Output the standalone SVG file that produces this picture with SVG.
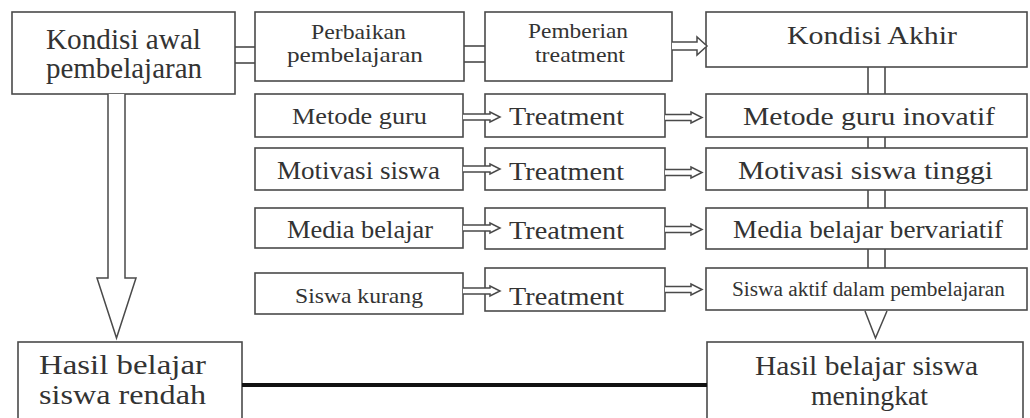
<svg xmlns="http://www.w3.org/2000/svg" width="1030" height="418" viewBox="0 0 1030 418">
<style>
.box{fill:#fff;stroke:#4a4a4a;stroke-width:1.6}
text{font-family:'Liberation Serif','DejaVu Serif',serif;fill:#333}
.ln{stroke:#4a4a4a;stroke-width:1.6;fill:none}
.ar{fill:#fff;stroke:#4a4a4a;stroke-width:1.5;stroke-linejoin:miter}
</style>
<rect width="1030" height="418" fill="#fff"/>
<g id="nodes" font-family="'Liberation Serif', serif">
<g id="kondisi-awal"><rect class="box" x="12" y="12" width="223" height="82"/>
<text x="46" y="49" font-size="29" textLength="155" lengthAdjust="spacingAndGlyphs">Kondisi awal</text>
<text x="46" y="78" font-size="29" textLength="156" lengthAdjust="spacingAndGlyphs">pembelajaran</text></g>
<g id="perbaikan"><rect class="box" x="255" y="12" width="209" height="69"/>
<text x="311" y="39" font-size="21" textLength="95" lengthAdjust="spacingAndGlyphs">Perbaikan</text>
<text x="287" y="62" font-size="21" textLength="136" lengthAdjust="spacingAndGlyphs">pembelajaran</text></g>
<g id="pemberian"><rect class="box" x="485" y="12" width="187" height="69"/>
<text x="528" y="38" font-size="21" textLength="100" lengthAdjust="spacingAndGlyphs">Pemberian</text>
<text x="535" y="62" font-size="21" textLength="90" lengthAdjust="spacingAndGlyphs">treatment</text></g>
<g id="kondisi-akhir"><rect class="box" x="706" y="12" width="321" height="55"/>
<text x="787" y="44" font-size="25" textLength="170" lengthAdjust="spacingAndGlyphs">Kondisi Akhir</text></g>

<g id="metode-guru"><rect class="box" x="255" y="94" width="208" height="43"/>
<text x="292" y="124" font-size="24" textLength="135" lengthAdjust="spacingAndGlyphs">Metode guru</text></g>
<g id="treatment-1"><rect class="box" x="485" y="94" width="180" height="43"/>
<text x="509" y="125" font-size="26" textLength="115" lengthAdjust="spacingAndGlyphs">Treatment</text></g>
<g id="metode-inovatif"><rect class="box" x="706" y="94" width="321" height="43"/>
<text x="743" y="125" font-size="25" textLength="252" lengthAdjust="spacingAndGlyphs">Metode guru inovatif</text></g>

<g id="motivasi"><rect class="box" x="255" y="148" width="208" height="42"/>
<text x="277" y="179" font-size="25" textLength="163" lengthAdjust="spacingAndGlyphs">Motivasi siswa</text></g>
<g id="treatment-2"><rect class="box" x="485" y="148" width="180" height="42"/>
<text x="509" y="180" font-size="26" textLength="115" lengthAdjust="spacingAndGlyphs">Treatment</text></g>
<g id="motivasi-tinggi"><rect class="box" x="706" y="148" width="321" height="42"/>
<text x="738" y="179" font-size="26" textLength="255" lengthAdjust="spacingAndGlyphs">Motivasi siswa tinggi</text></g>

<g id="media"><rect class="box" x="255" y="208" width="208" height="40"/>
<text x="287" y="238" font-size="25" textLength="146" lengthAdjust="spacingAndGlyphs">Media belajar</text></g>
<g id="treatment-3"><rect class="box" x="485" y="208" width="180" height="41"/>
<text x="509" y="239" font-size="26" textLength="115" lengthAdjust="spacingAndGlyphs">Treatment</text></g>
<g id="media-bervariatif"><rect class="box" x="706" y="208" width="321" height="41"/>
<text x="733" y="238" font-size="25" textLength="270" lengthAdjust="spacingAndGlyphs">Media belajar bervariatif</text></g>

<g id="siswa-kurang"><rect class="box" x="255" y="273" width="208" height="41"/>
<text x="295" y="303" font-size="22" textLength="128" lengthAdjust="spacingAndGlyphs">Siswa kurang</text></g>
<g id="treatment-4"><rect class="box" x="485" y="268" width="180" height="43"/>
<text x="509" y="305" font-size="26" textLength="115" lengthAdjust="spacingAndGlyphs">Treatment</text></g>
<g id="siswa-aktif"><rect class="box" x="706" y="268" width="321" height="42"/>
<text x="732" y="296" font-size="20" textLength="273" lengthAdjust="spacingAndGlyphs">Siswa aktif dalam pembelajaran</text></g>

<g id="hasil-rendah"><rect class="box" x="18" y="342" width="224" height="90"/>
<text x="39" y="374" font-size="27" textLength="167" lengthAdjust="spacingAndGlyphs">Hasil belajar</text>
<text x="39" y="404" font-size="27" textLength="167" lengthAdjust="spacingAndGlyphs">siswa rendah</text></g>
<g id="hasil-meningkat"><rect class="box" x="707" y="342" width="316" height="90"/>
<text x="755" y="375" font-size="27" textLength="223" lengthAdjust="spacingAndGlyphs">Hasil belajar siswa</text>
<text x="811" y="405" font-size="27" textLength="117" lengthAdjust="spacingAndGlyphs">meningkat</text></g>
</g>

<g id="connectors">
<line class="ln" x1="235" y1="47" x2="255" y2="47"/>
<line class="ln" x1="235" y1="63" x2="255" y2="63"/>
<line class="ln" x1="464" y1="46" x2="485" y2="46"/>
<line class="ln" x1="464" y1="62" x2="485" y2="62"/>
<path class="ar" d="M672,42 L697,42 L697,37 L707,46 L697,55 L697,50 L672,50"/>

<path class="ar" d="M463,114 L490,114 L490,112 L500,117 L490,122 L490,120 L463,120"/>
<path class="ar" d="M463,166 L490,166 L490,164 L500,169 L490,174 L490,172 L463,172"/>
<path class="ar" d="M463,225 L490,225 L490,223 L500,228 L490,233 L490,231 L463,231"/>
<path class="ar" d="M463,288 L490,288 L490,286 L500,291 L490,296 L490,294 L463,294"/>

<path class="ar" d="M665,114.5 L691,114.5 L691,112 L702,117.5 L691,123 L691,120.5 L665,120.5"/>
<path class="ar" d="M665,169.5 L691,169.5 L691,167 L702,172.5 L691,178 L691,175.5 L665,175.5"/>
<path class="ar" d="M665,226.5 L691,226.5 L691,224 L702,229.5 L691,235 L691,232.5 L665,232.5"/>
<path class="ar" d="M665,286.5 L691,286.5 L691,284 L702,289.5 L691,295 L691,292.5 L665,292.5"/>

<path class="ar" d="M108,94 L108,278 L97,278 L116.5,338 L136,278 L125,278 L125,94"/>

<g class="ln">
<line x1="868" y1="67" x2="868" y2="94"/><line x1="885" y1="67" x2="885" y2="94"/>
<line x1="868" y1="137" x2="868" y2="148"/><line x1="885" y1="137" x2="885" y2="148"/>
<line x1="868" y1="190" x2="868" y2="208"/><line x1="885" y1="190" x2="885" y2="208"/>
<line x1="868" y1="249" x2="868" y2="268"/><line x1="885" y1="249" x2="885" y2="268"/>
</g>
<path class="ar" d="M865,311 L875.5,338 L887,311"/>

<line x1="242" y1="385" x2="707" y2="385" stroke="#111" stroke-width="4"/>
</g>
</svg>
